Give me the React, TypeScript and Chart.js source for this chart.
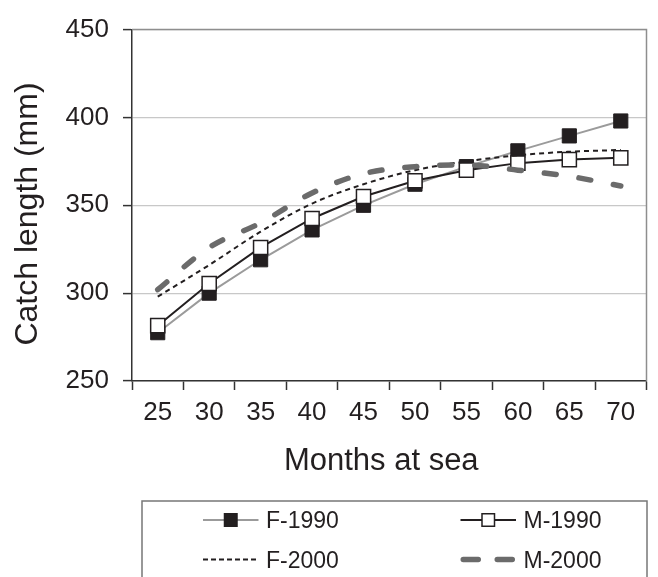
import React, { useEffect, useRef } from "react";
import { Chart, registerables } from "chart.js";

Chart.register(...registerables);

// ---- Data ----
const months = ["25", "30", "35", "40", "45", "50", "55", "60", "65", "70"];
const f1990 = [277.5, 300, 319, 336, 350, 362, 372, 381, 389.5, 398];
const m1990 = [281.5, 305.5, 326, 342.5, 355, 364, 370, 374, 376, 377];
const f2000 = [298, 316, 335, 351, 362, 370, 375, 378.5, 380.5, 381.5];
const m2000 = [302, 326, 340, 357, 368, 372, 373, 370, 366.5, 361];
const seriesNames = ["F-1990", "M-1990", "F-2000", "M-2000"];
const yMin = 250;
const yMax = 450;
const yStep = 50;
const xTitle = "Months at sea";
const yTitle = "Catch length (mm)";

const FONT = "'Liberation Sans', Arial, Helvetica, sans-serif";
const INK = "#231f20";

const decorPlugin = {
  id: "decor",
  beforeDatasetsDraw(chart: any) {
    const ctx = chart.ctx;
    const a = chart.chartArea;
    ctx.save();
    ctx.strokeStyle = "#8e8e8e";
    ctx.lineWidth = 1.5;
    ctx.beginPath();
    ctx.moveTo(a.left, a.top);
    ctx.lineTo(a.right, a.top);
    ctx.lineTo(a.right, a.bottom);
    ctx.stroke();
    ctx.restore();
  },
  afterDraw(chart: any) {
    const ctx = chart.ctx;
    const a = chart.chartArea;
    ctx.save();
    ctx.fillStyle = INK;
    // y title
    ctx.save();
    ctx.translate(36.5, 214);
    ctx.rotate(-Math.PI / 2);
    ctx.font = `32px ${FONT}`;
    ctx.textAlign = "center";
    ctx.textBaseline = "alphabetic";
    ctx.fillText(yTitle, 0, 0);
    ctx.restore();
    // x title
    ctx.font = `31px ${FONT}`;
    ctx.textAlign = "center";
    ctx.textBaseline = "alphabetic";
    ctx.fillText(xTitle, (a.left + a.right) / 2 - 8, 470);

    // legend box
    ctx.strokeStyle = "#777777";
    ctx.lineWidth = 1.5;
    ctx.setLineDash([]);
    ctx.strokeRect(142, 501, 505, 120);

    const ds = chart.data.datasets;
    ds.forEach((d: any, i: number) => {
      const col = i % 2;
      const row = Math.floor(i / 2);
      const sx0 = col === 0 ? 203 : 460.5;
      const sx1 = sx0 + 55.5;
      const y = row === 0 ? 520 : 559.5;
      const lw = d.borderWidth || 1;
      const cap = d.borderCapStyle || "butt";
      const inset = cap === "round" ? lw / 2 : 0;
      ctx.save();
      ctx.strokeStyle = d.borderColor;
      ctx.lineWidth = lw;
      ctx.lineCap = cap;
      ctx.setLineDash(d.legendDash || d.borderDash || []);
      ctx.beginPath();
      ctx.moveTo(sx0 + inset, y);
      ctx.lineTo(sx1 - inset - (cap === "round" ? 0.5 : 0), y);
      ctx.stroke();
      ctx.setLineDash([]);
      if (d.pointRadius > 0) {
        const cx = (sx0 + sx1) / 2;
        const s = 12.5;
        ctx.fillStyle = d.pointBackgroundColor;
        ctx.strokeStyle = d.pointBorderColor;
        ctx.lineWidth = 1.5;
        ctx.fillRect(cx - s / 2, y - s / 2, s, s);
        ctx.strokeRect(cx - s / 2, y - s / 2, s, s);
      }
      ctx.restore();
      ctx.fillStyle = INK;
      ctx.font = `23px ${FONT}`;
      ctx.textAlign = "left";
      ctx.textBaseline = "alphabetic";
      ctx.fillText(d.label, sx1 + 7.5, y + 8);
    });
    ctx.restore();
  },
};

export default function App() {
  const ref = useRef<HTMLCanvasElement | null>(null);

  useEffect(() => {
    document.body.style.margin = "0";
    const canvas = ref.current;
    if (!canvas) return;
    const chart = new Chart(canvas, {
      type: "line",
      data: {
        labels: months,
        datasets: [
          {
            label: seriesNames[0],
            data: f1990,
            borderColor: "#9b9b9b",
            borderWidth: 2,
            tension: 0,
            pointStyle: "rect",
            pointRadius: 10,
            pointBackgroundColor: INK,
            pointBorderColor: INK,
            pointBorderWidth: 1,
            order: 4,
          },
          {
            label: seriesNames[1],
            data: m1990,
            borderColor: INK,
            borderWidth: 2,
            tension: 0,
            pointStyle: "rect",
            pointRadius: 10,
            pointBackgroundColor: "#ffffff",
            pointBorderColor: INK,
            pointBorderWidth: 1.5,
            order: 3,
          },
          {
            label: seriesNames[2],
            data: f2000,
            borderColor: INK,
            borderWidth: 2,
            borderDash: [5, 4],
            legendDash: [5, 3],
            cubicInterpolationMode: "monotone",
            pointRadius: 0,
            order: 2,
          } as any,
          {
            label: seriesNames[3],
            data: m2000,
            borderColor: "#6b6b6b",
            borderWidth: 5.5,
            borderDash: [12, 23],
            legendDash: [15, 19],
            borderCapStyle: "round",
            cubicInterpolationMode: "monotone",
            pointRadius: 0,
            order: 1,
          } as any,
        ],
      },
      options: {
        responsive: false,
        animation: false,
        events: [],
        layout: { padding: { left: 0, top: 20, right: 5, bottom: 156 } },
        plugins: {
          legend: { display: false },
          tooltip: { enabled: false },
          title: { display: false },
        },
        scales: {
          x: {
            type: "category",
            offset: true,
            grid: {
              offset: true,
              drawOnChartArea: false,
              drawTicks: true,
              tickLength: 9,
              tickColor: "#333333",
              tickWidth: 1.5,
            },
            border: { color: "#333333", width: 1.5 },
            ticks: {
              color: INK,
              font: { family: FONT, size: 26 },
              padding: 7,
              maxRotation: 0,
              autoSkip: false,
            },
            afterFit: (scale: any) => {
              scale.height = 40;
            },
          },
          y: {
            min: yMin,
            max: yMax,
            grid: {
              color: "#c8c8c8",
              lineWidth: 1.2,
              tickLength: 9,
              tickColor: "#333333",
              tickWidth: 1.5,
            },
            border: { color: "#333333", width: 1.5 },
            ticks: {
              stepSize: yStep,
              color: INK,
              font: { family: FONT, size: 26 },
              padding: 14,
            },
            afterFit: (scale: any) => {
              scale.width = 132;
            },
          },
        },
      },
      plugins: [decorPlugin],
    } as any);
    return () => chart.destroy();
  }, []);

  return (
    <div style={{ position: "absolute", left: 0, top: 0, width: 658, height: 577, background: "#ffffff" }}>
      <canvas ref={ref} width={658} height={577} style={{ display: "block" }} />
    </div>
  );
}
